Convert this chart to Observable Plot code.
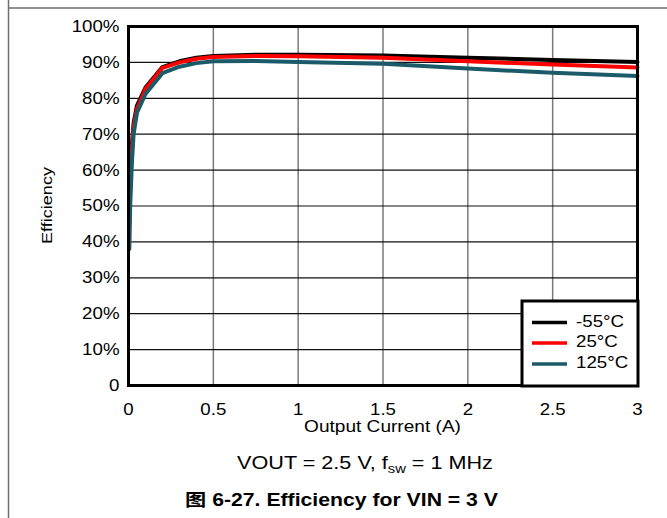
<!DOCTYPE html>
<html>
<head>
<meta charset="utf-8">
<script src="https://cdn.jsdelivr.net/npm/d3@7"></script>
<script src="https://cdn.jsdelivr.net/npm/@observablehq/plot@0.6"></script>
<style>
  html, body { margin: 0; padding: 0; background: #fff; }
  #chart svg { display: block; font-family: "Liberation Sans", Arial, "Noto Sans CJK SC", sans-serif; }
</style>
</head>
<body>
<div id="chart"></div>
<script>
// ---- data ----
const current = [0.005, 0.01, 0.02, 0.03, 0.05, 0.1, 0.2, 0.3, 0.4, 0.5, 0.75, 1, 1.5, 2, 2.5, 3];
const effM55  = [0.48, 0.58, 0.67, 0.73, 0.78, 0.830, 0.887, 0.903, 0.913, 0.918, 0.921, 0.921, 0.919, 0.913, 0.907, 0.901];
const eff25   = [0.45, 0.55, 0.66, 0.72, 0.77, 0.826, 0.885, 0.900, 0.910, 0.915, 0.918, 0.917, 0.913, 0.903, 0.894, 0.886];
const eff125  = [0.38, 0.50, 0.62, 0.70, 0.76, 0.812, 0.870, 0.888, 0.898, 0.903, 0.904, 0.901, 0.896, 0.883, 0.871, 0.862];
const seriesNames = ["-55°C", "25°C", "125°C"];
const seriesColors = ["#000000", "#ff0000", "#1b5a68"];
const xTicks = [0, 0.5, 1, 1.5, 2, 2.5, 3];
const xTickLabels = ["0", "0.5", "1", "1.5", "2", "2.5", "3"];
const yTicks = [0, 0.1, 0.2, 0.3, 0.4, 0.5, 0.6, 0.7, 0.8, 0.9, 1.0];
const yTickLabels = ["0", "10%", "20%", "30%", "40%", "50%", "60%", "70%", "80%", "90%", "100%"];
const xLabel = "Output Current (A)";
const yLabel = "Efficiency";
const captionText = "图 6-27. Efficiency for VIN = 3 V";

const seriesValues = [effM55, eff25, eff125];
const rows = [];
seriesNames.forEach((name, s) => {
  current.forEach((c, i) => rows.push({series: name, current: c, eff: seriesValues[s][i]}));
});

const xFmt = (d) => xTickLabels[xTicks.findIndex(t => Math.abs(t - d) < 1e-9)];
const yFmt = (d) => yTickLabels[yTicks.findIndex(t => Math.abs(t - d) < 1e-9)];

const W = 667, H = 518;
const plot = Plot.plot({
  width: W,
  height: H,
  marginLeft: 128,
  marginRight: 30,
  marginTop: 26,
  marginBottom: 133,
  style: {fontFamily: '"Liberation Sans", Arial, sans-serif', fontSize: "17px", color: "#000", background: "#fff"},
  x: {domain: [0, 3], label: null},
  y: {domain: [0, 1], label: null},
  color: {domain: seriesNames, range: seriesColors},
  marks: [
    Plot.gridX(xTicks, {stroke: "#7a7a7a", strokeOpacity: 1, strokeWidth: 1.5}),
    Plot.gridY(yTicks, {stroke: "#111", strokeOpacity: 1, strokeWidth: 1.2}),
    Plot.line(rows, {x: "current", y: "eff", z: "series", stroke: "series", strokeWidth: 4, strokeLinejoin: "round"}),
    Plot.frame({stroke: "#000", strokeWidth: 3}),
    Plot.axisX({ticks: xTicks, tickFormat: xFmt, tickSize: 0, tickPadding: 17, fontSize: 17}),
    Plot.axisY({ticks: yTicks, tickFormat: yFmt, tickSize: 0, tickPadding: 9, fontSize: 17})
  ]
});

document.getElementById("chart").appendChild(plot);

const svg = d3.select(plot);

// widen tick labels horizontally to match the reference font proportions
svg.selectAll('g[aria-label="x-axis tick label"] text, g[aria-label="y-axis tick label"] text')
  .attr("transform", function() { return (this.getAttribute("transform") || "") + " scale(1.1,1)"; });

// helper: place text and stretch to a target advance width
function fitText(node, x, y, target, rotate) {
  const len = node.getComputedTextLength();
  const sx = target / len;
  node.setAttribute("transform", `translate(${x},${y})${rotate ? " rotate(" + rotate + ")" : ""} scale(${sx},1)`);
}

// outer page frame lines
svg.append("line").attr("x1", 8.5).attr("x2", 8.5).attr("y1", 0).attr("y2", H)
  .attr("stroke", "#6e6e6e").attr("stroke-width", 1.5);
svg.append("line").attr("x1", 8).attr("x2", W).attr("y1", 8).attr("y2", 8)
  .attr("stroke", "#6e6e6e").attr("stroke-width", 1.5);

// axis titles
const xt = svg.append("text").attr("text-anchor", "middle")
  .attr("font-size", 17).attr("fill", "#000").text(xLabel);
fitText(xt.node(), 382.5, 432, 157);
const yt = svg.append("text").attr("text-anchor", "middle")
  .attr("font-size", 15).attr("fill", "#000").text(yLabel);
fitText(yt.node(), 52, 205.5, 77, -90);

// subtitle with subscript
const sub = svg.append("text").attr("text-anchor", "middle")
  .attr("font-size", 19).attr("fill", "#000");
sub.append("tspan").text("VOUT = 2.5 V, f");
sub.append("tspan").attr("font-size", 13).attr("dy", 4).text("sw");
sub.append("tspan").attr("dy", -4).text(" = 1 MHz");
fitText(sub.node(), 365, 469, 256);

// caption
const cap = svg.append("text").attr("text-anchor", "middle")
  .attr("font-size", 17.5).attr("font-weight", "bold").attr("fill", "#000")
  .style("font-family", '"Liberation Sans", Arial, "Noto Sans CJK SC", sans-serif')
  .text(captionText);
fitText(cap.node(), 341.5, 506, 313);

// legend
const lg = svg.append("g").attr("text-anchor", "start");
lg.append("rect").attr("x", 522).attr("y", 301).attr("width", 116).attr("height", 85)
  .attr("fill", "#fff").attr("stroke", "#000").attr("stroke-width", 3);
seriesNames.forEach((name, i) => {
  const ly = [322.5, 343, 364][i];
  lg.append("line").attr("x1", 532).attr("x2", 567).attr("y1", ly).attr("y2", ly)
    .attr("stroke", seriesColors[i]).attr("stroke-width", 3.5);
  lg.append("text").attr("text-anchor", "start").attr("font-size", 16).attr("fill", "#000")
    .attr("transform", `translate(576,${[326.5, 347, 368][i]}) scale(1.17,1)`).text(name);
});
</script>
</body>
</html>
